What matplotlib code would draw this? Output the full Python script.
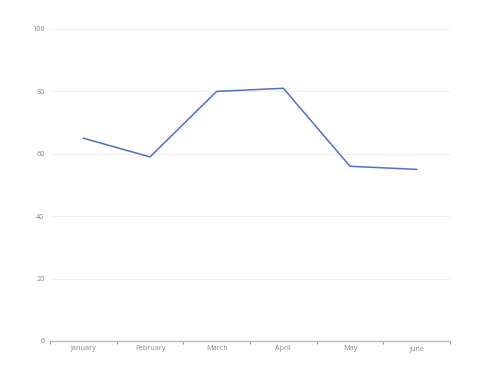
import matplotlib
matplotlib.use("Agg")
import matplotlib.pyplot as plt
import numpy as np

months = ["January", "February", "March", "April", "May", "June"]
values = [65, 59, 80, 81, 56, 55]
y_ticks = [0, 20, 40, 60, 80, 100]

plt.rcParams['font.family'] = ['Open Sans', 'DejaVu Sans']

fig = plt.figure(figsize=(5, 3.75), dpi=100)
ax = fig.add_axes([0.1, 0.0907, 0.8, 0.832])

x = np.arange(len(months))
ax.plot(x, values, color='#4f6fd3', lw=1.1)

ax.set_xlim(-0.5, len(months) - 0.5)
ax.set_ylim(0, 100)
ax.set_yticks(y_ticks)
ax.set_xticks(x)
ax.set_xticklabels(months)
ax.set_xticks(np.arange(len(months) + 1) - 0.5, minor=True)

ax.yaxis.grid(True, color='#efefef', lw=0.8)
ax.set_axisbelow(True)
for side in ['left', 'right', 'top']:
    ax.spines[side].set_visible(False)
ax.spines['bottom'].set_color('#bbbbbb')
ax.spines['bottom'].set_linewidth(1.0)

ax.tick_params(axis='y', length=0, pad=4, labelsize=5.2, labelcolor='#888888')
ax.tick_params(axis='x', which='major', length=0, pad=3, labelsize=5.2,
               labelcolor='#888888')
ax.tick_params(axis='x', which='minor', length=2, width=0.8, color='#999999')

fig.savefig('out.png', dpi=100)
